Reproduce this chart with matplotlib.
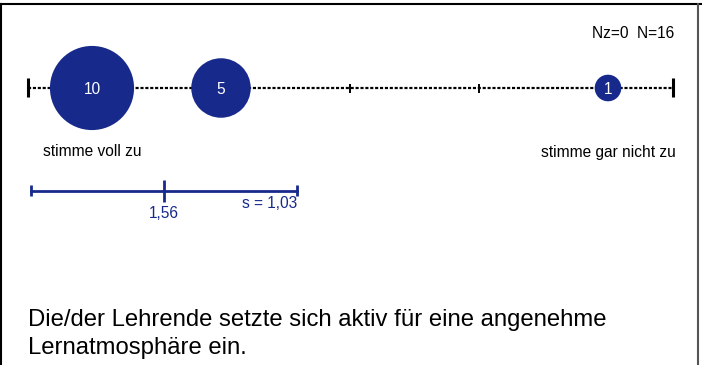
import matplotlib.pyplot as plt
from matplotlib.lines import Line2D

plt.rcParams["font.family"] = ["Liberation Sans", "DejaVu Sans"]

# data
scale_points = [1, 2, 3, 4, 5]
counts = [10, 5, 0, 0, 1]
mean_value = 1.56
std_value = 1.03
n_missing = 0
n_total = 16
left_label = "stimme voll zu"
right_label = "stimme gar nicht zu"
question = "Die/der Lehrende setzte sich aktiv für eine angenehme\nLernatmosphäre ein."

NAVY = "#172a8c"
FS = 11.2


def fmt(v):
    return f"{v:.2f}".replace(".", ",")


def main():
    fig = plt.figure(figsize=(7.02, 3.65), dpi=100)
    ax = fig.add_axes([0, 0, 1, 1])
    # x in scale units, y in pixel rows from the top
    step_px = 129.0
    x0 = 1 - 92 / step_px
    ax.set_xlim(x0, x0 + 702 / step_px)
    ax.set_ylim(365, 0)
    ax.axis("off")

    lo, hi = scale_points[0] - 0.5, scale_points[-1] + 0.5
    y_scale = 88

    # dashed scale line with ticks
    ax.plot([lo, hi], [y_scale, y_scale], color="black", lw=1.6,
            linestyle=(0, (1.4, 0.8)), zorder=1)
    ax.vlines([lo, hi], y_scale - 10, y_scale + 9, color="black", lw=2.2, zorder=2)
    ax.vlines(scale_points, y_scale - 4.5, y_scale + 4.5, color="black", lw=1.4, zorder=2)

    # bubbles sized by counts
    xs = [p for p, c in zip(scale_points, counts) if c > 0]
    cs = [c for c in counts if c > 0]
    ax.scatter(xs, [y_scale] * len(xs), s=[367 * c for c in cs], color=NAVY,
               edgecolors="none", zorder=3)
    for x, c in zip(xs, cs):
        ax.text(x, y_scale + 1, str(c), color="white", fontsize=FS,
                ha="center", va="center", zorder=4)

    ax.text(scale_points[0], 152, left_label, fontsize=FS, ha="center", va="center")
    ax.text(scale_points[-1], 152, right_label, fontsize=FS, ha="center", va="center")
    ax.text(hi + 0.01, 34, f"Nz={n_missing}  N={n_total}", fontsize=FS,
            ha="right", va="center")

    # mean and standard deviation
    y_sd = 191
    ax.plot([mean_value - std_value, mean_value + std_value], [y_sd, y_sd],
            color=NAVY, lw=2.0)
    ax.vlines([mean_value - std_value, mean_value + std_value], y_sd - 6, y_sd + 5,
              color=NAVY, lw=2.0)
    ax.vlines([mean_value], y_sd - 11, y_sd + 11, color=NAVY, lw=2.0)
    ax.text(mean_value, 213, fmt(mean_value), color=NAVY, fontsize=FS,
            ha="center", va="center")
    ax.text(mean_value + std_value, 203, f"s = {fmt(std_value)}", color=NAVY,
            fontsize=FS, ha="right", va="center")

    # question text
    fig.text(28 / 702, 1 - 309 / 365, question, fontsize=17.2, ha="left", va="top",
             linespacing=1.34)

    # frame
    fig.add_artist(Line2D([0, 1], [1 - 4 / 365] * 2, color="black", lw=1.5,
                          transform=fig.transFigure))
    fig.add_artist(Line2D([1 / 702] * 2, [0, 1 - 4 / 365], color="black", lw=1.5,
                          transform=fig.transFigure))
    fig.add_artist(Line2D([698 / 702] * 2, [0, 1 - 4 / 365], color="#555555", lw=1.5,
                          transform=fig.transFigure))

    fig.savefig("out.png", dpi=100)
    plt.close(fig)


if __name__ == "__main__":
    main()
